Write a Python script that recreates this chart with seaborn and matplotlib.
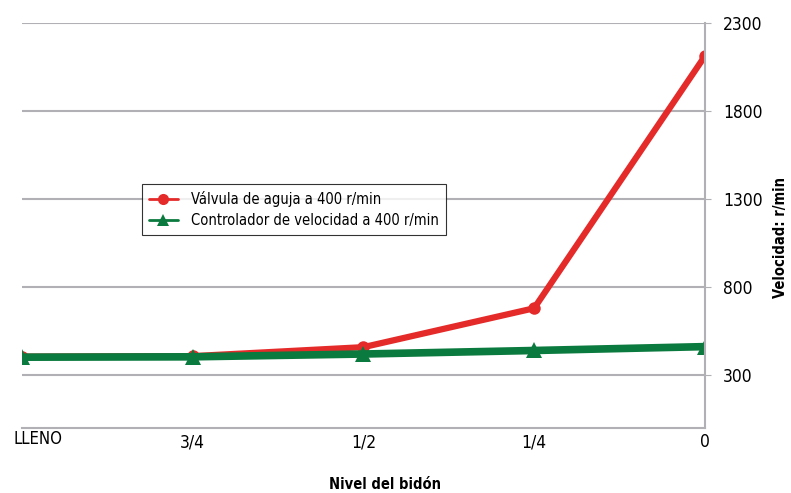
import pandas as pd
import seaborn as sns
import matplotlib.pyplot as plt
import matplotlib.transforms as mtransforms

# DATOS
niveles = ["LLENO", "3/4", "1/2", "1/4", "0"]
valvula = [405, 408, 459, 680, 2112]
controlador = [402, 404, 420, 440, 462]
series = ["Válvula de aguja a 400 r/min", "Controlador de velocidad a 400 r/min"]

df = pd.DataFrame({
    "nivel": niveles * 2,
    "pos": list(range(len(niveles))) * 2,
    "velocidad": valvula + controlador,
    "serie": [series[0]] * len(niveles) + [series[1]] * len(niveles),
})

sns.set_style("white")
plt.rcParams["font.family"] = ["DejaVu Sans"]
plt.rcParams["font.stretch"] = "condensed"
plt.rcParams["text.color"] = "black"
plt.rcParams["axes.labelcolor"] = "black"

fig = plt.figure(figsize=(7.91, 4.93), dpi=100)
ax = fig.add_axes([0.028, 0.132, 0.863, 0.821])

colores = {series[0]: "#e52a2a", series[1]: "#0b7a3e"}
sns.lineplot(data=df, x="pos", y="velocidad", hue="serie", style="serie",
             palette=colores, markers={series[0]: "o", series[1]: "^"},
             dashes=False, markeredgewidth=0, ax=ax, legend=True)
for line, lw, ms in zip(ax.lines, [4.5, 5.5], [9, 11.5]):
    line.set_linewidth(lw)
    line.set_markersize(ms)

# EJES
ax.set_xlim(0, 4)
ax.set_ylim(0, 2300)
ax.set_yticks([300, 800, 1300, 1800, 2300])
ax.yaxis.tick_right()
ax.set_xticks(range(len(niveles)))
ax.set_xticklabels(niveles)
ax.tick_params(axis="y", labelsize=12.5, length=4, color="#b0b0b5", labelcolor="black", pad=9)
ax.tick_params(axis="x", labelsize=12.5, length=3, color="#b0b0b5", labelcolor="black", direction="in", pad=4)
ax.grid(axis="y", color="#b0b0b5", linewidth=1.5)
ax.set_axisbelow(True)
for lado in ["left", "top"]:
    ax.spines[lado].set_visible(False)
for lado in ["right", "bottom"]:
    ax.spines[lado].set_color("#b0b0b5")
    ax.spines[lado].set_linewidth(1.5)

# LLENO alineado a la izquierda como en el original
primero = ax.get_xticklabels()[0]
primero.set_horizontalalignment("left")
primero.set_fontsize(12)
primero.set_transform(primero.get_transform() +
                      mtransforms.ScaledTranslation(-0.09, 0.03, fig.dpi_scale_trans))

ax.set_ylabel("")
ax.set_xlabel("")
fig.text(0.987, 0.519, "Velocidad: r/min", ha="center", va="center", rotation=90,
         fontsize=10.5, fontweight="bold")
fig.text(0.487, 0.003, "Nivel del bidón", ha="center", va="bottom",
         fontsize=10.5, fontweight="bold")

leg = ax.legend(loc="upper left", bbox_to_anchor=(0.176, 0.602), borderaxespad=0,
                fontsize=10.5, frameon=True, fancybox=False, edgecolor="black",
                handlelength=2.0, borderpad=0.45, labelspacing=0.45, handletextpad=0.9)
leg.get_frame().set_linewidth(0.8)
for h in leg.get_lines():
    h.set_linewidth(2)
    h.set_markersize(8)

plt.savefig("out.png", dpi=100)
